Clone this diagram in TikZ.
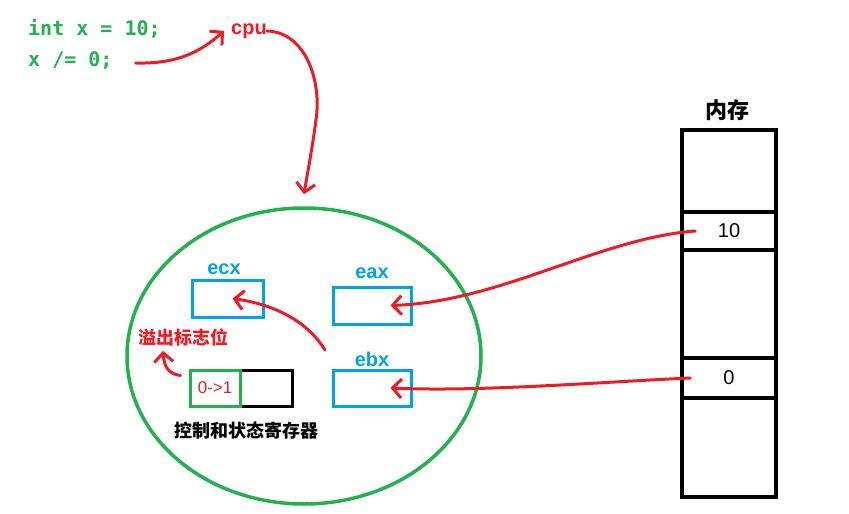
\documentclass[tikz,border=0pt]{standalone}
\usepackage{fontspec}
\setmainfont{Liberation Sans}
\setmonofont{DejaVu Sans Mono}
\newfontfamily\cjk{Noto Sans CJK SC}
\usetikzlibrary{arrows.meta,positioning,shapes.geometric}
\definecolor{pgreen}{HTML}{22B14C}
\definecolor{pred}{HTML}{ED1C24}
\definecolor{pblue}{HTML}{00A2E8}

\begin{document}
\begin{tikzpicture}[x=1pt,y=-1pt,
    >={Straight Barb[length=9pt,width=19pt]},
    code/.style={pgreen,font=\fontsize{20}{22}\selectfont\ttfamily\bfseries,anchor=west,inner sep=0pt},
    reg/.style={rectangle,draw=pblue,line width=3pt,minimum width=78pt,minimum height=37pt,inner sep=0pt},
    regname/.style={pblue,font=\fontsize{20}{22}\selectfont\bfseries,inner sep=0pt},
    cell/.style={rectangle,draw=black,line width=3.5pt,minimum width=94pt,inner sep=0pt,
                 font=\fontsize{20}{22}\selectfont},
    hanzi/.style={font=\fontsize{18}{20}\selectfont\cjk\bfseries,inner sep=0pt},
    wire/.style={->,pred,line width=3pt,line cap=round}]
  \useasboundingbox (0,0) rectangle (849,514);

  % source code and cpu
  \node[code] (line1) at (28,29) {int x = 10;};
  \node[code] (line2) at (28,60) {x /= 0;};
  \node[pred,font=\fontsize{20}{22}\selectfont\bfseries,inner sep=0pt] (cpu) at (249,31) {cpu};

  % the cpu
  \node[ellipse,draw=pgreen,line width=3.5pt,minimum width=354pt,minimum height=296pt] (cpubox) at (304,356) {};

  \node[reg,minimum width=71pt] (ecx) at (227.5,298.5) {};
  \node[reg] (eax) at (372,305.5) {};
  \node[reg,minimum height=36pt] (ebx) at (372,388) {};
  \node[regname] (ecxname) at (224,269) {ecx};
  \node[regname] (eaxname) at (372,273) {eax};
  \node[regname] (ebxname) at (372,359) {ebx};

  \node[rectangle,draw=black,line width=3pt,minimum width=102pt,minimum height=36pt] (ctrl) at (241,388) {};
  \node[rectangle,draw=pgreen,line width=3pt,minimum width=50pt,minimum height=36pt,inner sep=0pt,
        text=pred,font=\fontsize{17}{18}\selectfont] (flag) at (215,388) {0->1};
  \node[hanzi,text=pred] (ovf) at (183,337) {溢出标志位};
  \node[hanzi] (ctrlname) at (246,431) {控制和状态寄存器};

  % memory
  \node[font=\fontsize{22}{24}\selectfont\cjk\bfseries,inner sep=0pt] (memname) at (727,110) {内存};
  \node[cell,minimum height=82pt]  (mtop) at (729,171) {};
  \node[cell,minimum height=38pt]  (m10)  at (729,231) {10};
  \node[cell,minimum height=108pt] (mmid) at (729,304) {};
  \node[cell,minimum height=40pt]  (m0)   at (729,378) {0};
  \node[cell,minimum height=99pt]  (mbot) at (729,447.5) {};

  % red arrows
  \coordinate (turn) at (325,350);
  \draw[wire] ([xshift=23pt,yshift=-3pt]line2.east) .. controls (178,64) and (200,52) .. ([xshift=-7pt]cpu.west);
  \draw[wire] (cpu.east) .. controls (305,32) and (322,80) .. (316,120)
              .. controls (312,150) and (308,170) .. ([yshift=12pt]cpubox.north);
  \draw[wire] ([xshift=15pt]m10.west) .. controls (600,238) and (500,302) .. ([xshift=-22pt]eax.east);
  \draw[wire] ([xshift=10pt]m0.west) .. controls (600,382) and (480,392) .. ([xshift=-22pt]ebx.east);
  \draw[wire] (turn) .. controls (305,318) and (270,304) .. ([xshift=5pt]ecx.center);
  \draw[wire] ([xshift=-8pt,yshift=-7pt]flag.north west) .. controls (168,374) and (164,366) .. ([xshift=-20pt,yshift=-5pt]ovf.south);
\end{tikzpicture}
\end{document}
